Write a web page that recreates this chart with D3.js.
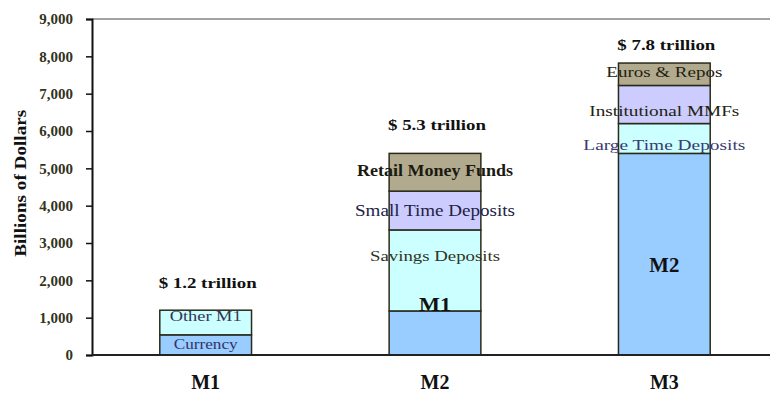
<!DOCTYPE html>
<html>
<head>
<meta charset="utf-8">
<script src="https://cdn.jsdelivr.net/npm/d3@7"></script>
<style>
  html, body { margin: 0; padding: 0; background: #fff; }
  svg { display: block; font-family: "Liberation Serif", "Times New Roman", serif; }
</style>
</head>
<body>
<svg id="chart" width="770" height="396"></svg>
<script>
// ---- data ----
const categories = ["M1", "M2", "M3"];
const totalLabels = ["$ 1.2 trillion", "$ 5.3 trillion", "$ 7.8 trillion"];
const m1Components = ["Currency", "Other M1"];
const m1Values = [540, 660];
const m2Components = ["M1", "Savings Deposits", "Small Time Deposits", "Retail Money Funds"];
const m2Values = [1180, 2170, 1040, 1010];
const m3Components = ["M2", "Large Time Deposits", "Institutional MMFs", "Euros & Repos"];
const m3Values = [5400, 800, 1020, 600];
const yTicks = [0, 1000, 2000, 3000, 4000, 5000, 6000, 7000, 8000, 9000];
const yTitle = "Billions of Dollars";

// ---- layout ----
const svg = d3.select("#chart");
const plotLeft = 92, plotRight = 770, plotTop = 19, plotBottom = 355;
const fillByLevel = ["#99ccff", "#ccffff", "#ccccff", "#b2aa8e"];

const x = d3.scaleBand().domain(categories).range([91, 779]).paddingInner(0.6).paddingOuter(0.3);
const y = d3.scaleLinear().domain([0, 9000]).range([plotBottom, plotTop]);

// top gray border
svg.append("line").attr("x1", plotLeft).attr("x2", plotRight).attr("y1", y(9000)).attr("y2", y(9000))
  .attr("stroke", "#a3a3a3").attr("stroke-width", 2);

const stacks = [
  { names: m1Components, values: m1Values },
  { names: m2Components, values: m2Values },
  { names: m3Components, values: m3Values }
];

const segs = [];
stacks.forEach((s, i) => {
  let acc = 0;
  s.values.forEach((v, j) => {
    segs.push({ cat: categories[i], name: s.names[j], level: j, y0: acc, y1: acc + v });
    acc += v;
  });
});

svg.append("g").selectAll("rect").data(segs).join("rect")
  .attr("x", d => x(d.cat))
  .attr("width", x.bandwidth())
  .attr("y", d => y(d.y1))
  .attr("height", d => y(d.y0) - y(d.y1))
  .attr("fill", d => fillByLevel[d.level])
  .attr("stroke", "#2a2a1a")
  .attr("stroke-width", 1.5);

// segment labels (style: font size, vertical nudge, colour, weight, stretched width)
const labelStyle = {
  "Currency":            { size: 14, dy: 0,   color: "#333366", weight: "normal", len: 64 },
  "Other M1":            { size: 14, dy: -6,  color: "#333355", weight: "normal", len: 72 },
  "M1":                  { size: 19, dy: -28, color: "#111",    weight: "bold",   len: 32 },
  "Savings Deposits":    { size: 15, dy: -14, color: "#333322", weight: "normal", len: 130 },
  "Small Time Deposits": { size: 16, dy: 0,   color: "#222244", weight: "normal", len: 160 },
  "Retail Money Funds":  { size: 16, dy: -2,  color: "#1a1a10", weight: "bold",   len: 156 },
  "M2":                  { size: 21, dy: 11,  color: "#111",    weight: "bold",   len: 30 },
  "Large Time Deposits": { size: 15, dy: 7,   color: "#3a3a70", weight: "normal", len: 162 },
  "Institutional MMFs":  { size: 15, dy: 7,   color: "#222211", weight: "normal", len: 150 },
  "Euros & Repos":       { size: 15, dy: -2,  color: "#222211", weight: "normal", len: 116 }
};
svg.append("g").selectAll("text").data(segs).join("text")
  .attr("x", d => x(d.cat) + x.bandwidth() / 2)
  .attr("y", d => (y(d.y0) + y(d.y1)) / 2 + labelStyle[d.name].dy)
  .attr("text-anchor", "middle")
  .attr("dominant-baseline", "central")
  .attr("font-size", d => labelStyle[d.name].size)
  .attr("font-weight", d => labelStyle[d.name].weight)
  .attr("fill", d => labelStyle[d.name].color)
  .attr("textLength", d => labelStyle[d.name].len)
  .attr("lengthAdjust", "spacingAndGlyphs")
  .text(d => d.name);

// totals
const totals = stacks.map(s => d3.sum(s.values));
const totalOffset = [-27, -28, -18];
svg.append("g").selectAll("text").data(categories).join("text")
  .attr("x", (d, i) => x(d) + x.bandwidth() / 2 + 2)
  .attr("y", (d, i) => y(totals[i]) + totalOffset[i])
  .attr("text-anchor", "middle")
  .attr("dominant-baseline", "central")
  .attr("font-size", 15)
  .attr("font-weight", "bold")
  .attr("fill", "#111")
  .attr("textLength", 98)
  .attr("lengthAdjust", "spacingAndGlyphs")
  .text((d, i) => totalLabels[i]);

// y axis
const yAxis = svg.append("g").attr("transform", `translate(${plotLeft},0)`)
  .call(d3.axisLeft(y).tickValues(yTicks).tickFormat(d3.format(",")).tickSizeOuter(0).tickSize(6).tickPadding(13));
yAxis.select(".domain").attr("stroke", "#111").attr("stroke-width", 2);
yAxis.selectAll(".tick line").attr("stroke", "#111").attr("stroke-width", 1.5);
yAxis.selectAll(".tick text").attr("font-size", 15).attr("font-family", "Liberation Serif, serif")
  .attr("fill", "#333320").attr("font-weight", "bold");

// x axis
const xAxis = svg.append("g").attr("transform", `translate(0,${plotBottom})`)
  .call(d3.axisBottom(x).tickSize(0).tickPadding(20));
xAxis.select(".domain").remove();
svg.append("line").attr("x1", plotLeft).attr("x2", plotRight).attr("y1", plotBottom).attr("y2", plotBottom)
  .attr("stroke", "#222").attr("stroke-width", 2);
xAxis.selectAll(".tick text").attr("font-size", 20).attr("font-weight", "bold")
  .attr("font-family", "Liberation Serif, serif").attr("fill", "#111");

// y title
svg.append("text")
  .attr("transform", `translate(20,${y(4600)}) rotate(-90)`)
  .attr("text-anchor", "middle")
  .attr("dominant-baseline", "central")
  .attr("font-size", 17)
  .attr("font-weight", "bold")
  .attr("fill", "#111")
  .attr("textLength", 147)
  .attr("lengthAdjust", "spacingAndGlyphs")
  .text(yTitle);
</script>
</body>
</html>
